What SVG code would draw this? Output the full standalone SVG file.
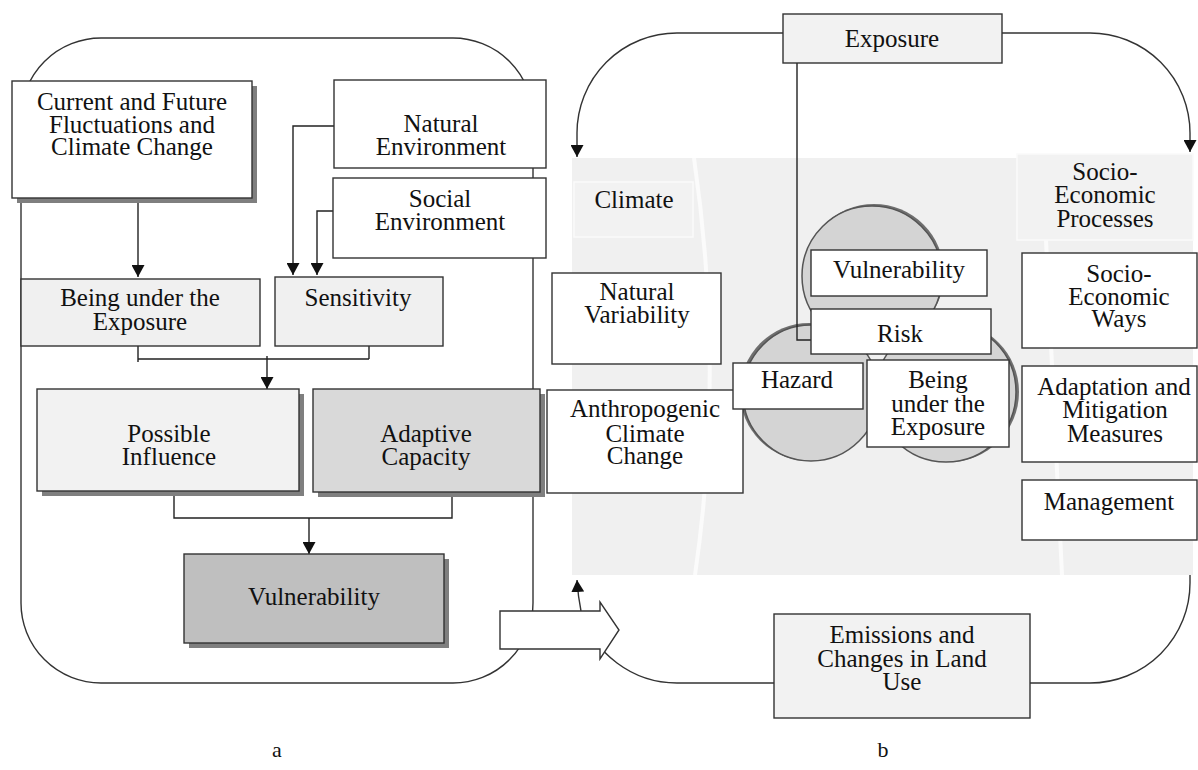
<svg xmlns="http://www.w3.org/2000/svg" width="1198" height="770" viewBox="0 0 1198 770">
<defs>
<marker id="ah" markerUnits="userSpaceOnUse" markerWidth="13" markerHeight="13" refX="12" refY="6.5" orient="auto">
<path d="M0,0 L12,6.5 L0,13 z" fill="#111"/>
</marker>
<style>
.t{font-family:"Liberation Serif","Times New Roman",serif;font-size:25px;fill:#111;text-anchor:middle}
.b{stroke:#333;stroke-width:1.4}
.sh{fill:#7f7f7f}
.ln{stroke:#222;stroke-width:1.4;fill:none}
.fr{stroke:#333;stroke-width:1.4;fill:none}
.cir{fill:#d4d4d4;stroke:#555;stroke-width:1.5}
.cs{fill:#6f6f6f}
</style>
</defs>
<rect width="1198" height="770" fill="#fff"/>

<g id="frames">
<rect class="fr" x="21" y="38" width="512" height="645" rx="80"/>
<path class="fr" d="M783 33 H677 A100 100 0 0 0 577 133 V157" marker-end="url(#ah)"/>
<path class="fr" d="M1002 33 H1090 A100 100 0 0 1 1190 133 V152" marker-end="url(#ah)"/>
<path class="fr" d="M1190 570 V583 A100 100 0 0 1 1090 683 H1030"/>
<path class="fr" d="M774 683 H677 A100 100 0 0 1 581 611 Q578 596 577 580" marker-end="url(#ah)"/>
</g>

<g id="panel-b-bg">
<rect x="572" y="158" width="621" height="417" fill="#f0f0f0"/>
<path d="M694 158 Q725 370 695 575" stroke="#fbfbfb" stroke-width="4" fill="none"/>
<path d="M1046 240 L1062 575" stroke="#fbfbfb" stroke-width="4" fill="none"/>
</g>

<g id="climate"><rect x="574" y="182" width="119" height="55" fill="#f2f2f2" stroke="#fafafa" stroke-width="1.5"/><text class="t" x="634" y="208">Climate</text></g>
<g id="socio-economic-processes"><rect x="1017" y="154" width="176" height="86" fill="#f2f2f2" stroke="#fafafa" stroke-width="1.5"/><text class="t" x="1105" y="180">Socio-</text><text class="t" x="1105" y="203">Economic</text><text class="t" x="1105" y="227">Processes</text></g>

<g id="venn">
<circle class="cs" cx="874" cy="274" r="70"/>
<circle class="cir" cx="872" cy="276" r="70"/>
<circle class="cs" cx="809" cy="392" r="69"/>
<circle class="cir" cx="811" cy="393" r="68"/>
<circle class="cs" cx="949" cy="392" r="70"/>
<circle class="cir" cx="946" cy="392" r="70"/>
</g>

<g id="connectors">
<path class="ln" d="M138 198 V277" marker-end="url(#ah)"/>
<path class="ln" d="M334 126 H293 V275" marker-end="url(#ah)"/>
<path class="ln" d="M333 211 H317 V275" marker-end="url(#ah)"/>
<path class="ln" d="M138 346 V362 M138 359 H369 M369 346 V359"/>
<path class="ln" d="M267 356 V389" marker-end="url(#ah)"/>
<path class="ln" d="M174 491 V518 H452 V497"/>
<path class="ln" d="M309 518 V554" marker-end="url(#ah)"/>
<path class="ln" d="M797 63 V340 H811"/>
</g>

<g id="current-future"><rect class="sh" x="17" y="86" width="240" height="117"/><rect class="b" x="12" y="81" width="240" height="117" fill="#fff"/><text class="t" x="132" y="110">Current and Future</text><text class="t" x="132" y="133">Fluctuations and</text><text class="t" x="132" y="155">Climate Change</text></g>
<g id="natural-environment"><rect class="b" x="334" y="80" width="212" height="88" fill="#fff"/><text class="t" x="441" y="132">Natural</text><text class="t" x="441" y="155">Environment</text></g>
<g id="social-environment"><rect class="b" x="333" y="178" width="213" height="80" fill="#fff"/><text class="t" x="440" y="207">Social</text><text class="t" x="440" y="230">Environment</text></g>
<g id="being-under-exposure-a"><rect class="b" x="21" y="279" width="239" height="67" fill="#f0f0f0"/><text class="t" x="140" y="306">Being under the</text><text class="t" x="140" y="330">Exposure</text></g>
<g id="sensitivity"><rect class="b" x="275" y="277" width="168" height="69" fill="#f0f0f0"/><text class="t" x="358" y="306">Sensitivity</text></g>
<g id="possible-influence"><rect class="sh" x="42" y="394" width="262" height="102"/><rect class="b" x="37" y="389" width="262" height="102" fill="#f2f2f2"/><text class="t" x="169" y="442">Possible</text><text class="t" x="169" y="465">Influence</text></g>
<g id="adaptive-capacity"><rect class="sh" x="318" y="394" width="227" height="103"/><rect class="b" x="313" y="389" width="227" height="103" fill="#d9d9d9"/><text class="t" x="426" y="442">Adaptive</text><text class="t" x="426" y="465">Capacity</text></g>
<g id="vulnerability-a"><rect class="sh" x="189" y="559" width="260" height="89"/><rect class="b" x="184" y="554" width="260" height="89" fill="#bfbfbf"/><text class="t" x="314" y="605">Vulnerability</text></g>

<g id="block-arrow"><polygon points="500,611 600,611 600,602 619,630 600,659 600,649 500,649" fill="#fff" stroke="#333" stroke-width="1.4"/></g>

<g id="exposure"><rect class="b" x="783" y="14" width="219" height="49" fill="#f2f2f2"/><text class="t" x="892" y="47">Exposure</text></g>
<g id="natural-variability"><rect class="b" x="552" y="273" width="169" height="91" fill="#fff"/><text class="t" x="637" y="300">Natural</text><text class="t" x="637" y="323">Variability</text></g>
<g id="anthropogenic"><rect class="b" x="547" y="390" width="196" height="103" fill="#fff"/><text class="t" x="645" y="417">Anthropogenic</text><text class="t" x="645" y="442">Climate</text><text class="t" x="645" y="464">Change</text></g>
<g id="vulnerability-b"><rect class="b" x="811" y="250" width="176" height="46" fill="#fff"/><text class="t" x="899" y="278">Vulnerability</text></g>
<g id="risk"><rect class="b" x="811" y="309" width="180" height="45" fill="#fff"/><text class="t" x="900" y="342">Risk</text></g>
<g id="hazard"><rect class="b" x="733" y="363" width="130" height="46" fill="#fff"/><text class="t" x="797" y="388">Hazard</text></g>
<g id="being-under-exposure-b"><rect class="b" x="867" y="360" width="142" height="87" fill="#fff"/><text class="t" x="938" y="388">Being</text><text class="t" x="938" y="412">under the</text><text class="t" x="938" y="435">Exposure</text></g>
<g id="socio-economic-ways"><rect class="b" x="1022" y="253" width="175" height="95" fill="#fff"/><text class="t" x="1119" y="282">Socio-</text><text class="t" x="1119" y="305">Economic</text><text class="t" x="1119" y="327">Ways</text></g>
<g id="adaptation-mitigation"><rect class="b" x="1022" y="366" width="175" height="96" fill="#fff"/><text class="t" x="1114" y="395">Adaptation and</text><text class="t" x="1115" y="418">Mitigation</text><text class="t" x="1115" y="442">Measures</text></g>
<g id="management"><rect class="b" x="1022" y="480" width="175" height="60" fill="#fff"/><text class="t" x="1109" y="510">Management</text></g>
<g id="emissions"><rect class="b" x="774" y="614" width="256" height="104" fill="#f2f2f2"/><text class="t" x="902" y="643">Emissions and</text><text class="t" x="902" y="667">Changes in Land</text><text class="t" x="902" y="690">Use</text></g>

<g id="labels"><text class="t" x="277" y="757" style="font-size:22px">a</text><text class="t" x="883" y="757" style="font-size:22px">b</text></g>
</svg>
